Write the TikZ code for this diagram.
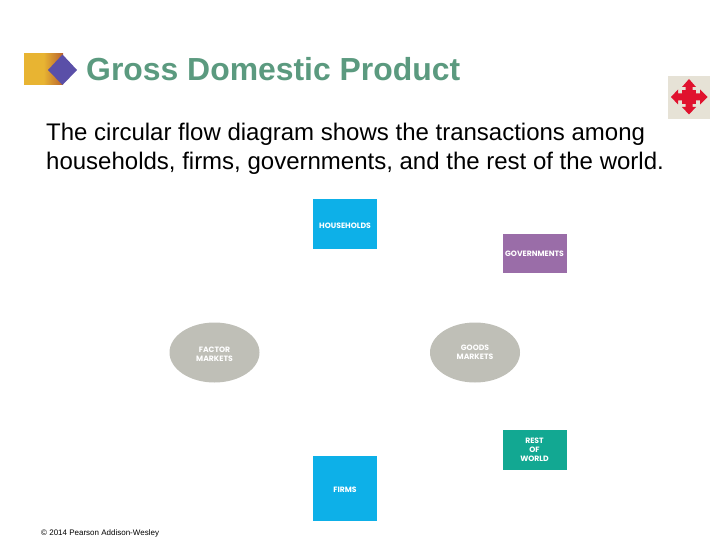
\documentclass[tikz,border=0pt]{standalone}
\usepackage{fontspec}
\setmainfont{Liberation Sans}
\newfontfamily\labelfont{Poppins}
\usetikzlibrary{shapes.geometric}
\definecolor{titlegreen}{HTML}{5B9A7F}
\definecolor{flowblue}{HTML}{0DB0E8}
\definecolor{govpurple}{HTML}{9A6DA8}
\definecolor{restgreen}{HTML}{12A892}
\definecolor{marketgray}{HTML}{BFBFB7}
\definecolor{iconbeige}{HTML}{E6E2D6}
\definecolor{iconred}{HTML}{E0122E}
\definecolor{logoyellow}{HTML}{E8B432}
\definecolor{logobrown}{HTML}{B8622E}
\definecolor{logoblue}{HTML}{5A4FA8}
\newcommand{\lowertext}[1]{\raisebox{-1.5pt}[\height][\depth]{#1}}
\tikzset{
  flowbox/.style={rectangle, minimum width=64pt, inner sep=0pt, text=white,
    align=center, font=\labelfont\bfseries\fontsize{7.7}{9}\selectfont},
  marketoval/.style={flowbox, ellipse, fill=marketgray, minimum width=90pt, minimum height=60pt},
  bodyline/.style={anchor=base west, inner sep=0pt, font=\fontsize{24}{28}\selectfont}
}
\begin{document}
\begin{tikzpicture}[x=1pt,y=-1pt]
  \useasboundingbox (0,0) rectangle (720,540);

  %logo and title
  \shade[left color=logoyellow, right color=logobrown, middle color=logoyellow]
  (24,54) rectangle (63,85);
  \fill[logoblue] (48,70) -- (62.5,54.5) -- (77,70) -- (62.5,85) -- cycle;
  \node[anchor=base west, inner sep=0pt, text=titlegreen,
    font=\bfseries\fontsize{31.9}{36}\selectfont] (title) at (86,81) {Gross Domestic Product};

  %corner icon
  \fill[iconbeige] (668,76) rectangle (710,119);
  \fill[iconred] (682,90) rectangle (696,104);
  \fill[iconred] (689,79) -- (696,87) -- (692.5,87) -- (692.5,107) -- (696,107) -- (689,114.5)
  -- (682,107) -- (685.5,107) -- (685.5,87) -- (682,87) -- cycle;
  \fill[iconred] (671,97) -- (678,89.5) -- (678,93.5) -- (700,93.5) -- (700,89.5) -- (707.5,97)
  -- (700,104.5) -- (700,100.5) -- (678,100.5) -- (678,104.5) -- cycle;

  %two lines of text
  \node[bodyline] (lineone) at (46,141) {The circular flow diagram shows the transactions among};
  \node[bodyline] (linetwo) at (46,170) {households, firms, governments, and the rest of the world.};

  %boxes and markets
  \node[flowbox, fill=flowblue, minimum height=50pt] (households) at (345,224) {\lowertext{HOUSEHOLDS}};
  \node[flowbox, fill=govpurple, minimum height=39pt] (governments) at (534.5,253.5) {GOVERNMENTS};
  \node[marketoval] (factor) at (214.5,352.5) {\lowertext{FACTOR}\\\lowertext{MARKETS}};
  \node[marketoval] (goods) at (475,352.5) {GOODS\\MARKETS};
  \node[flowbox, fill=restgreen, minimum height=40pt] (rest) at (534.5,450) {REST\\OF\\WORLD};
  \node[flowbox, fill=flowblue, minimum height=65pt] (firms) at (345,488.5) {\lowertext{FIRMS}};

  %copyright line
  \node[anchor=base west, inner sep=0pt, font=\fontsize{8}{9}\selectfont] (credit) at (41,535)
  {\textcopyright{} 2014 Pearson Addison-Wesley};
\end{tikzpicture}
\end{document}
